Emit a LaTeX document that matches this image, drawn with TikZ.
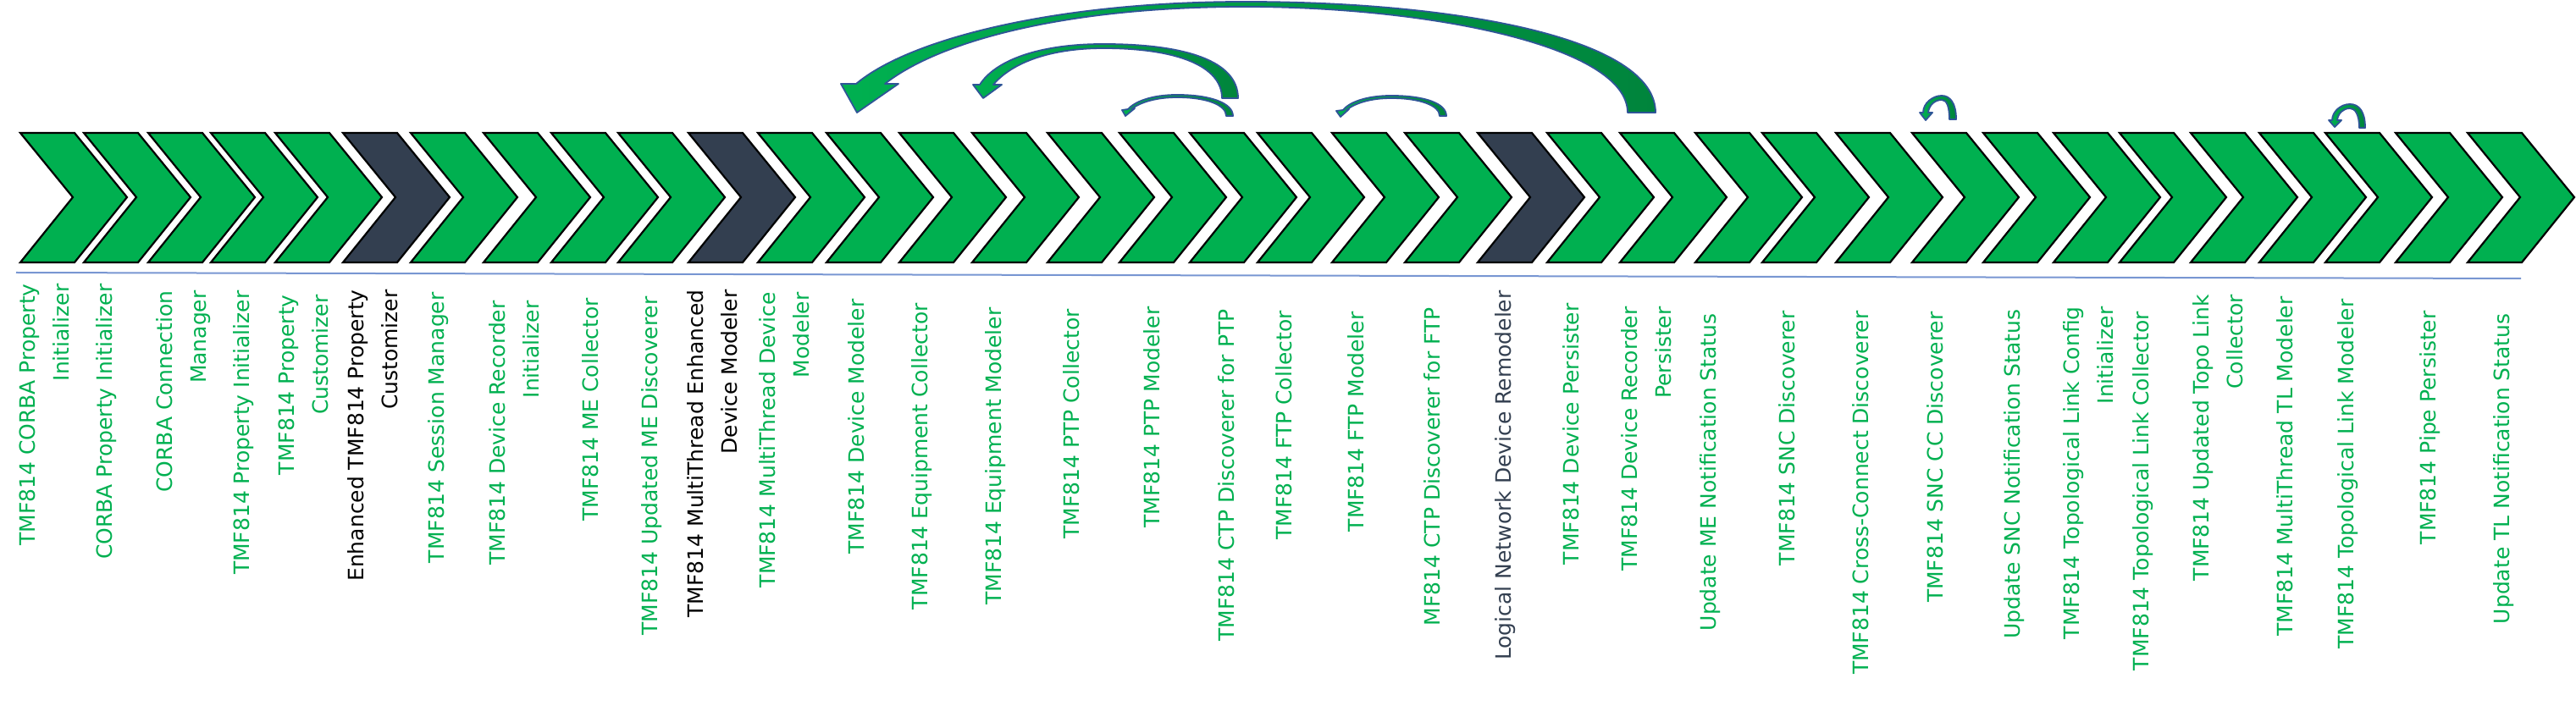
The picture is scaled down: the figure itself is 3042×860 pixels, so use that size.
\documentclass[tikz,border=0pt]{standalone}
\usepackage{fontspec}
\setmainfont{DejaVu Sans}
\definecolor{stepgreen}{RGB}{0,176,80}
\definecolor{stepslate}{RGB}{51,63,80}
\definecolor{arcblue}{RGB}{47,85,151}
\definecolor{arcdark}{RGB}{0,132,60}
\definecolor{railblue}{RGB}{120,150,210}

\begin{document}
\begin{tikzpicture}[x=0.5pt,y=0.5pt,yscale=-1,xscale=1,
  chev/.style={draw=black,line width=1.1pt,line join=miter},
  looparc/.style={draw=arcblue,line width=0.9pt,line join=round,left color=stepgreen,right color=arcdark},
  lbl/.style={rotate=90,anchor=east,inner sep=0pt,align=right,font=\fontsize{12.5}{20}\selectfont}]
\useasboundingbox (0,0) rectangle (3042,860);

%Chevrons
\foreach \x/\col in {24/stepgreen,99/stepgreen,175/stepgreen,249/stepgreen,325/stepgreen,405/stepslate,
  485/stepgreen,571/stepgreen,651/stepgreen,730/stepgreen,813/stepslate,895/stepgreen,976/stepgreen,
  1062/stepgreen,1148/stepgreen,1237/stepgreen,1322/stepgreen,1405/stepgreen,1485/stepgreen,1573/stepgreen,
  1659/stepgreen,1745/stepslate,1827/stepgreen,1913/stepgreen,2002/stepgreen,2081/stepgreen,2168/stepgreen,
  2258/stepgreen,2342/stepgreen,2425/stepgreen,2503/stepgreen,2587/stepgreen,2668/stepgreen,2746/stepgreen,
  2829/stepgreen,2914/stepgreen}{
  \draw[chev,fill=\col] (\x,157) -- (\x+64,157) -- (\x+126,233) -- (\x+64,310) -- (\x,310) -- (\x+62,233) -- cycle;
}

%Straight Lines
\draw[railblue,line width=1pt] (19,322) -- (2977,329);

%Curve Arrow (big)
\draw[looparc] (1955,133) .. controls (1955,45) and (1720,2) .. (1470,2) .. controls (1250,2) and (1075,45) .. (1011,99)
  -- (993,99) -- (1012,133) -- (1061,99) -- (1045,99)
  .. controls (1110,48) and (1260,8) .. (1470,8) .. controls (1690,8) and (1922,55) .. (1922,133) -- cycle;
%Curve Arrow (medium)
\draw[looparc] (1462,116) .. controls (1462,72) and (1400,52) .. (1303,52) .. controls (1225,52) and (1175,72) .. (1157,100)
  -- (1149,100) -- (1161,116) -- (1183,100) -- (1173,100)
  .. controls (1195,74) and (1240,57) .. (1303,57) .. controls (1390,57) and (1443,78) .. (1443,116) -- cycle;
%Curve Arrow (PTP)
\draw[looparc] (1456,137) .. controls (1456,122) and (1430,112) .. (1390,112) .. controls (1360,112) and (1340,120) .. (1332,129)
  -- (1325,130) -- (1329,137) -- (1340,128) -- (1336,129)
  .. controls (1346,121) and (1365,115) .. (1390,115) .. controls (1425,115) and (1448,124) .. (1448,137) -- cycle;
%Curve Arrow (FTP)
\draw[looparc] (1708,137) .. controls (1708,122) and (1682,113) .. (1643,113) .. controls (1613,113) and (1593,121) .. (1586,130)
  -- (1578,131) -- (1583,138) -- (1593,129) -- (1590,130)
  .. controls (1600,122) and (1618,116) .. (1643,116) .. controls (1678,116) and (1700,125) .. (1700,137) -- cycle;
%Curve Arrow (SNC CC)
\draw[looparc] (2310,141) .. controls (2310,122) and (2303,113) .. (2293,113) .. controls (2282,113) and (2271,122) .. (2271,133)
  -- (2267,133) -- (2274,142) -- (2282,133) -- (2277,133)
  .. controls (2278,124) and (2285,118) .. (2293,118) .. controls (2299,118) and (2302,126) .. (2302,141) -- cycle;
%Curve Arrow (TL)
\draw[looparc] (2793,151) .. controls (2793,132) and (2786,123) .. (2775,123) .. controls (2764,123) and (2754,132) .. (2754,142)
  -- (2750,142) -- (2757,150) -- (2765,142) -- (2760,142)
  .. controls (2761,134) and (2767,128) .. (2775,128) .. controls (2781,128) and (2786,135) .. (2786,151) -- cycle;

% Text Nodes
\foreach \n/\x/\y/\col/\txt in {
  1/52/335/stepgreen/{TMF814 CORBA Property\\Initializer},
  2/126/335/stepgreen/{CORBA Property Initializer},
  3/217/343/stepgreen/{CORBA Connection\\Manager},
  4/288/343/stepgreen/{TMF814 Property Initializer},
  5/358/348/stepgreen/{TMF814 Property\\Customizer},
  6/440/342/black/{Enhanced TMF814 Property\\Customizer},
  7/518/345/stepgreen/{TMF814 Session Manager},
  8/607/355/stepgreen/{TMF814 Device Recorder\\Initializer},
  9/697/352/stepgreen/{TMF814 ME Collector},
  10/770/350/stepgreen/{TMF814 Updated ME Discoverer},
  11/841/342/black/{TMF814 MultiThread Enhanced\\Device Modeler},
  12/926/345/stepgreen/{TMF814 MultiThread Device\\Modeler},
  13/1011/353/stepgreen/{TMF814 Device Modeler},
  14/1089/358/stepgreen/{TMF814 Equipment Collector},
  15/1176/363/stepgreen/{TMF814 Equipment Modeler},
  16/1265/365/stepgreen/{TMF814 PTP Collector},
  17/1360/362/stepgreen/{TMF814 PTP Modeler},
  18/1448/365/stepgreen/{TMF814 CTP Discoverer for PTP},
  19/1516/367/stepgreen/{TMF814 FTP Collector},
  20/1601/368/stepgreen/{TMF814 FTP Modeler},
  21/1691/363/stepgreen/{MF814 CTP Discoverer for FTP},
  22/1778/343/stepslate/{Logical Network Device Remodeler},
  23/1855/358/stepgreen/{TMF814 Device Persister},
  24/1944/362/stepgreen/{TMF814 Device Recorder\\Persister},
  25/2020/370/stepgreen/{Update ME Notification Status},
  26/2110/367/stepgreen/{TMF814 SNC Discoverer},
  27/2197/367/stepgreen/{TMF814 Cross-Connect Discoverer},
  28/2285/368/stepgreen/{TMF814 SNC CC Discoverer},
  29/2379/365/stepgreen/{Update SNC Notification Status},
  30/2466/362/stepgreen/{TMF814 Topological Link Config\\Initializer},
  31/2531/368/stepgreen/{TMF814 Topological Link Collector},
  32/2619/348/stepgreen/{TMF814 Updated Topo Link\\Collector},
  33/2698/350/stepgreen/{TMF814 MultiThread TL Modeler},
  34/2773/353/stepgreen/{TMF814 Topological Link Modeler},
  35/2870/367/stepgreen/{TMF814 Pipe Persister},
  36/2957/370/stepgreen/{Update TL Notification Status}}{
  \node[lbl,text=\col] (l\n) at (\x,\y) {\txt};
}

\end{tikzpicture}
\end{document}
